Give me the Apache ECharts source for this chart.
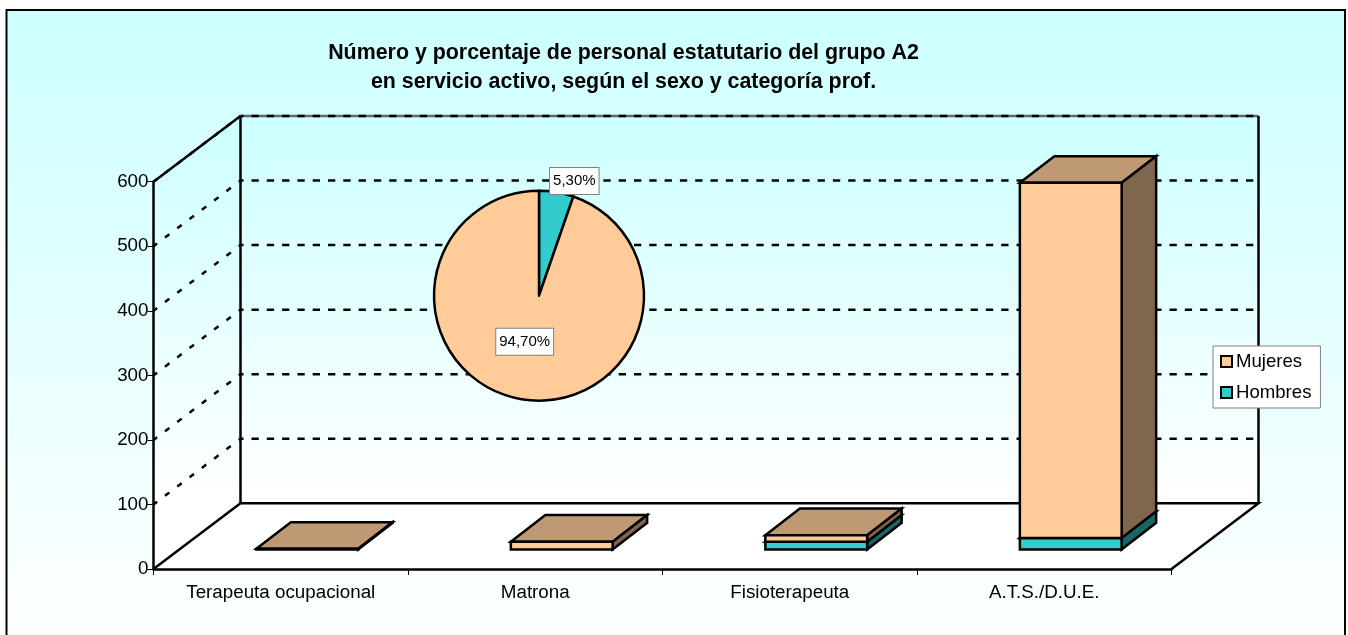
<!DOCTYPE html>
<html lang="es">
<head>
    <meta charset="utf-8">
    <title>Personal estatutario grupo A2</title>
    <script src="https://cdn.jsdelivr.net/npm/echarts@6/dist/echarts.min.js"></script>
    <style>
        html, body { margin: 0; padding: 0; background: #fff; }
        #main { width: 1348px; height: 635px; }
    </style>
</head>
<body>
<div id="main"></div>
<script>
    // data
    var categories = ['Terapeuta ocupacional', 'Matrona', 'Fisioterapeuta', 'A.T.S./D.U.E.'];
    var hombres = [0, 0, 12, 18];
    var mujeres = [1, 12, 10, 550];
    var yTicks = [100, 200, 300, 400, 500, 600];
    var pieNames = ['Hombres', 'Mujeres'];
    var pieValues = [5.3, 94.7];
    var pieLabels = ['5,30%', '94,70%'];

    var FONT = '"Liberation Sans", Arial, sans-serif';

    // fake 3D depth, in pixels
    var FLOOR_X = 87, FLOOR_Y = 65.7;
    var BAR_OFF_X = 26.5, BAR_OFF_Y = 19.5;
    var BAR_DEPTH_X = 34.5, BAR_DEPTH_Y = 26.7;
    var LINE_W = 2.5;

    function renderWalls(params, api) {
        var g = params.coordSys;
        var right = g.x + g.width, bottom = g.y + g.height;
        var backLeft = g.x + FLOOR_X, backRight = right + FLOOR_X;
        var backTop = g.y - FLOOR_Y, backBottom = bottom - FLOOR_Y;
        var line = { fill: null, stroke: '#000', lineWidth: LINE_W };
        return {
            type: 'group',
            children: [
                {
                    type: 'polygon',
                    shape: { points: [[g.x, g.y], [backLeft, backTop], [backRight, backTop], [backRight, backBottom], [right, bottom], [g.x, bottom]] },
                    style: {
                        fill: {
                            type: 'linear', x: 0, y: 0, x2: 0, y2: 1,
                            colorStops: [{ offset: 0, color: '#CCFFFF' }, { offset: 0.85, color: '#FFFFFF' }, { offset: 1, color: '#FFFFFF' }]
                        }
                    }
                },
                { type: 'polyline', shape: { points: [[backLeft, backTop], [backRight, backTop]] }, style: { fill: null, stroke: '#666', lineWidth: LINE_W } },
                { type: 'polyline', shape: { points: [[g.x, g.y], [backLeft, backTop]] }, style: line },
                { type: 'polyline', shape: { points: [[g.x, bottom], [backLeft, backBottom], [backRight, backBottom], [right, bottom]] }, style: line },
                { type: 'polyline', shape: { points: [[backLeft, backTop], [backLeft, backBottom]] }, style: line },
                { type: 'polyline', shape: { points: [[backRight, backTop], [backRight, backBottom]] }, style: line }
            ]
        };
    }

    function renderGridLine(params, api) {
        var p = api.coord([0, api.value(0)]);
        var g = params.coordSys;
        var y = p[1];
        return {
            type: 'group',
            children: [
                {
                    type: 'polyline',
                    shape: { points: [[g.x, y], [g.x + FLOOR_X, y - FLOOR_Y]] },
                    style: { fill: null, stroke: '#000', lineWidth: LINE_W, lineDash: [5.5, 9.9], lineDashOffset: 1 }
                },
                {
                    type: 'polyline',
                    shape: { points: [[g.x + FLOOR_X, y - FLOOR_Y], [g.x + g.width + FLOOR_X, y - FLOOR_Y]] },
                    style: { fill: null, stroke: '#000', lineWidth: LINE_W, lineDash: [7.3, 8], lineDashOffset: 4.3 }
                }
            ]
        };
    }

    function barRenderer(front, top, side) {
        return function (params, api) {
            var cat = api.value(0);
            if (api.value(1) === api.value(2)) return;
            var low = api.coord([cat, api.value(1)]);
            var high = api.coord([cat, api.value(2)]);
            var w = api.size([1, 0])[0] * 0.4;
            var x0 = low[0] + BAR_OFF_X - w / 2, x1 = x0 + w;
            var y0 = low[1] - BAR_OFF_Y, y1 = high[1] - BAR_OFF_Y;
            var edge = { stroke: '#000', lineWidth: LINE_W, lineJoin: 'miter' };
            function face(points, fill) {
                return { type: 'polygon', shape: { points: points }, style: Object.assign({ fill: fill }, edge) };
            }
            return {
                type: 'group',
                children: [
                    face([[x0, y1], [x1, y1], [x1 + BAR_DEPTH_X, y1 - BAR_DEPTH_Y], [x0 + BAR_DEPTH_X, y1 - BAR_DEPTH_Y]], top),
                    face([[x1, y0], [x1, y1], [x1 + BAR_DEPTH_X, y1 - BAR_DEPTH_Y], [x1 + BAR_DEPTH_X, y0 - BAR_DEPTH_Y]], side),
                    face([[x0, y0], [x1, y0], [x1, y1], [x0, y1]], front)
                ]
            };
        };
    }

    var hombresBars = categories.map(function (c, i) { return [i, 0, hombres[i]]; });
    var mujeresBars = categories.map(function (c, i) { return [i, hombres[i], hombres[i] + mujeres[i]]; });

    var pieLabelPos = { 'Hombres': [574.3, 181], 'Mujeres': [524.7, 341.7] };

    var myChart = echarts.init(document.getElementById('main'));
    var option = {
        animation: false,
        textStyle: { fontFamily: FONT },
        title: {
            text: 'Número y porcentaje de personal estatutario del grupo A2\nen servicio activo, según el sexo y categoría prof.',
            left: 618.5,
            top: 34,
            textAlign: 'center',
            textStyle: { fontFamily: FONT, fontSize: 21.4, fontWeight: 'bold', color: '#000', lineHeight: 29 }
        },
        graphic: [
            {
                type: 'rect',
                z: -10,
                shape: { x: 6.5, y: 10, width: 1338.5, height: 640 },
                style: {
                    fill: {
                        type: 'linear', x: 0, y: 0, x2: 0, y2: 1,
                        colorStops: [{ offset: 0, color: '#CCFFFF' }, { offset: 1, color: '#FFFFFF' }]
                    },
                    stroke: '#000',
                    lineWidth: 2
                }
            }
        ],
        legend: {
            data: ['Mujeres', 'Hombres'],
            orient: 'vertical',
            left: 1213,
            top: 346,
            z: 10,
            icon: 'rect',
            itemWidth: 11,
            itemHeight: 11,
            itemGap: 12,
            padding: [6, 9, 6, 7],
            backgroundColor: '#fff',
            borderColor: '#808080',
            borderWidth: 1,
            itemStyle: { borderColor: '#000', borderWidth: 2 },
            textStyle: { fontFamily: FONT, fontSize: 18.6, color: '#000', padding: [0, 0, 0, -1] }
        },
        grid: { left: 153.5, top: 181.7, width: 1018, height: 387.3 },
        xAxis: {
            type: 'category',
            data: categories,
            z: 3,
            axisLine: { lineStyle: { color: '#000', width: LINE_W } },
            axisTick: { show: true, length: 6, lineStyle: { color: '#000', width: 1 } },
            axisLabel: { color: '#000', fontSize: 18.8, fontFamily: FONT, margin: 14 }
        },
        yAxis: {
            type: 'value',
            min: 0,
            max: 600,
            interval: 100,
            z: 3,
            splitLine: { show: false },
            axisLine: { show: true, lineStyle: { color: '#000', width: LINE_W } },
            axisTick: { show: true, length: 6, lineStyle: { color: '#000', width: 1 } },
            axisLabel: { color: '#000', fontSize: 18.8, fontFamily: FONT, margin: 5 }
        },
        series: [
            {
                type: 'custom',
                name: 'walls',
                z: 1,
                silent: true,
                data: [[0]],
                renderItem: renderWalls
            },
            {
                type: 'custom',
                name: 'gridlines',
                z: 1,
                silent: true,
                data: yTicks.map(function (v) { return [v]; }),
                encode: { y: 0 },
                renderItem: renderGridLine
            },
            {
                type: 'custom',
                name: 'Hombres',
                z: 4,
                itemStyle: { color: '#33CCCC' },
                data: hombresBars,
                encode: { x: 0, y: [1, 2] },
                renderItem: barRenderer('#33CCCC', '#269999', '#1A6666')
            },
            {
                type: 'custom',
                name: 'Mujeres',
                z: 4,
                itemStyle: { color: '#FFCC99' },
                data: mujeresBars,
                encode: { x: 0, y: [1, 2] },
                renderItem: barRenderer('#FFCC99', '#BF9973', '#80664D')
            },
            {
                type: 'pie',
                z: 5,
                center: [539, 295.7],
                radius: [0, 105],
                startAngle: 90,
                clockwise: true,
                avoidLabelOverlap: false,
                silent: true,
                data: pieNames.map(function (n, i) {
                    return {
                        name: n,
                        value: pieValues[i],
                        itemStyle: { color: n === 'Hombres' ? '#33CCCC' : '#FFCC99' },
                        label: { formatter: pieLabels[i] }
                    };
                }),
                itemStyle: { borderColor: '#000', borderWidth: LINE_W },
                labelLine: { show: false },
                label: {
                    show: true,
                    position: 'inside',
                    color: '#000',
                    fontFamily: FONT,
                    fontSize: 15,
                    lineHeight: 15,
                    backgroundColor: '#fff',
                    borderColor: '#808080',
                    borderWidth: 1,
                    padding: [6, 3, 5, 3]
                },
                labelLayout: function (params) {
                    var p = pieLabelPos[pieNames[params.dataIndex]];
                    return { x: p[0], y: p[1], align: 'center', verticalAlign: 'middle' };
                }
            }
        ]
    };
    myChart.setOption(option);
</script>
</body>
</html>
